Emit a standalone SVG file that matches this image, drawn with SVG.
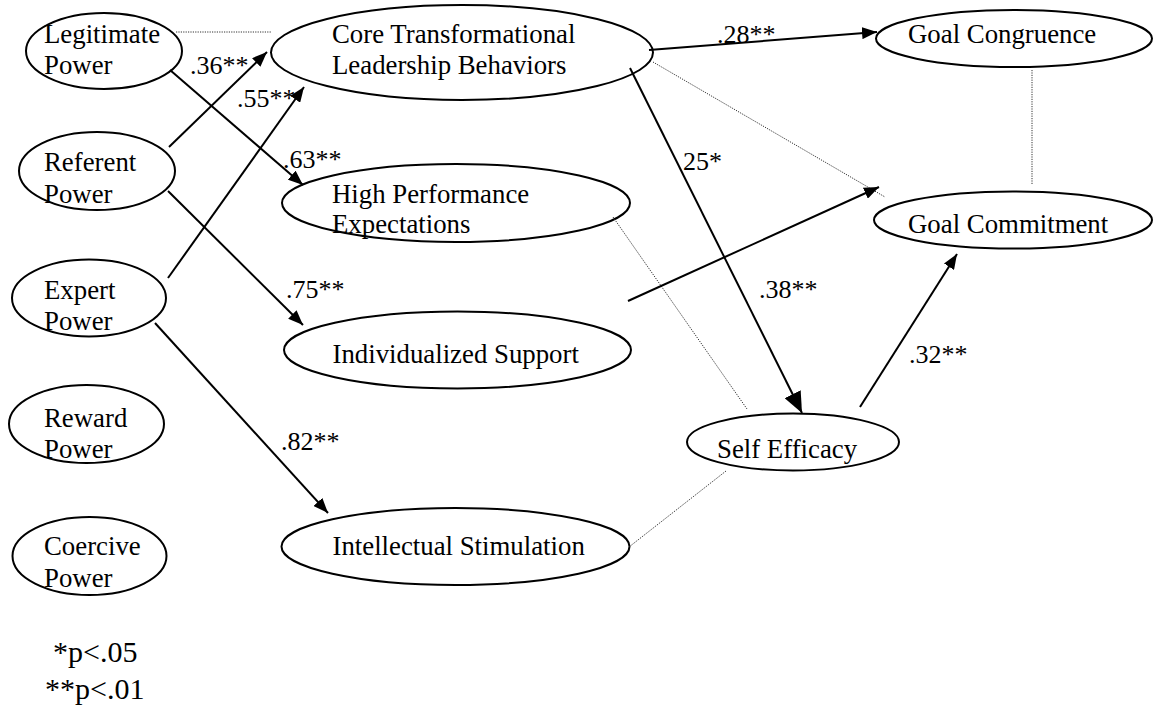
<svg xmlns="http://www.w3.org/2000/svg" width="1158" height="706" viewBox="0 0 1158 706">
  <style>
    .node ellipse { fill: none; stroke: #000; stroke-width: 2; }
    .node text { font-family: "Liberation Serif", "Times New Roman", serif; font-size: 26.8px; fill: #000; }
    .path { stroke: #000; stroke-width: 2; fill: none; }
    .corr { stroke: #333; stroke-width: 1; stroke-dasharray: 1.2 1.2; fill: none; }
    .coef { font-family: "Liberation Serif", "Times New Roman", serif; font-size: 26px; fill: #000; }
    .legend { font-family: "Liberation Serif", "Times New Roman", serif; font-size: 30px; fill: #000; }
  </style>
  <defs>
    <marker id="arrow" viewBox="0 0 15 12" refX="15" refY="6" markerWidth="15" markerHeight="12" markerUnits="userSpaceOnUse" orient="auto">
      <path d="M0,0 L15,6 L0,12 z" fill="#000"/>
    </marker>
    <marker id="arrow-lg" viewBox="0 0 21 18" refX="21" refY="9" markerWidth="21" markerHeight="18" markerUnits="userSpaceOnUse" orient="auto">
      <path d="M0,0 L21,9 L0,18 z" fill="#000"/>
    </marker>
  </defs>
  <rect width="1158" height="706" fill="#fff"/>

  <!-- Power bases -->
  <g id="legitimate-power" class="node">
    <ellipse cx="104" cy="51" rx="78" ry="38"/>
    <text x="44" y="43">Legitimate</text>
    <text x="44" y="74">Power</text>
  </g>
  <g id="referent-power" class="node">
    <ellipse cx="97" cy="171" rx="78" ry="39"/>
    <text x="44" y="171">Referent</text>
    <text x="44" y="203">Power</text>
  </g>
  <g id="expert-power" class="node">
    <ellipse cx="89" cy="298" rx="77" ry="38.5"/>
    <text x="44" y="299">Expert</text>
    <text x="44" y="330">Power</text>
  </g>
  <g id="reward-power" class="node">
    <ellipse cx="86.5" cy="424" rx="77.5" ry="39"/>
    <text x="44" y="427">Reward</text>
    <text x="44" y="458">Power</text>
  </g>
  <g id="coercive-power" class="node">
    <ellipse cx="89.5" cy="556" rx="77" ry="39"/>
    <text x="44" y="555">Coercive</text>
    <text x="44" y="587">Power</text>
  </g>

  <!-- Leadership behaviors -->
  <g id="core-tl" class="node">
    <ellipse cx="462" cy="52.5" rx="191" ry="47.5"/>
    <text x="332" y="43">Core Transformational</text>
    <text x="332" y="74">Leadership Behaviors</text>
  </g>
  <g id="high-performance" class="node">
    <ellipse cx="456" cy="203" rx="174" ry="39"/>
    <text x="332" y="203">High Performance</text>
    <text x="332" y="233">Expectations</text>
  </g>
  <g id="individualized-support" class="node">
    <ellipse cx="457.5" cy="350" rx="173.5" ry="38.5"/>
    <text x="332.5" y="363">Individualized Support</text>
  </g>
  <g id="intellectual-stimulation" class="node">
    <ellipse cx="455.5" cy="546.5" rx="174" ry="38.5"/>
    <text x="332.5" y="555">Intellectual Stimulation</text>
  </g>

  <!-- Outcomes -->
  <g id="goal-congruence" class="node">
    <ellipse cx="1014" cy="38.5" rx="138" ry="28.5"/>
    <text x="908" y="43">Goal Congruence</text>
  </g>
  <g id="goal-commitment" class="node">
    <ellipse cx="1013" cy="220" rx="139" ry="28.5"/>
    <text x="908" y="233">Goal Commitment</text>
  </g>
  <g id="self-efficacy" class="node">
    <ellipse cx="793" cy="442" rx="106" ry="28.5"/>
    <text x="717" y="458">Self Efficacy</text>
  </g>

  <!-- Paths and correlations -->
  <g id="connectors">
    <line class="corr" x1="176" y1="32" x2="272" y2="32"/>
    <line class="corr" x1="653" y1="62" x2="885" y2="197"/>
    <line class="corr" x1="1032" y1="70" x2="1032" y2="184"/>
    <line class="corr" x1="613" y1="217" x2="747" y2="409"/>
    <line class="corr" x1="726" y1="471" x2="629" y2="547"/>

    <line class="path" x1="169" y1="147" x2="267" y2="52" marker-end="url(#arrow)"/>
    <line class="path" x1="168" y1="278" x2="304" y2="87" marker-end="url(#arrow)"/>
    <line class="path" x1="170" y1="70" x2="303" y2="185" marker-end="url(#arrow)"/>
    <line class="path" x1="168" y1="191" x2="303" y2="325" marker-end="url(#arrow)"/>
    <line class="path" x1="155" y1="323" x2="328" y2="513" marker-end="url(#arrow)"/>
    <line class="path" x1="649" y1="50" x2="877" y2="32" marker-end="url(#arrow)"/>
    <line class="path" x1="630" y1="68" x2="802" y2="413" marker-end="url(#arrow-lg)"/>
    <line class="path" x1="628" y1="301" x2="879" y2="187" marker-end="url(#arrow)"/>
    <line class="path" x1="860" y1="407" x2="957" y2="254" marker-end="url(#arrow)"/>

    <text class="coef" x="190" y="74">.36**</text>
    <text class="coef" x="237" y="107">.55**</text>
    <text class="coef" x="283" y="168">.63**</text>
    <text class="coef" x="286" y="298">.75**</text>
    <text class="coef" x="281" y="450">.82**</text>
    <text class="coef" x="717" y="43">.28**</text>
    <text class="coef" x="683" y="170">25*</text>
    <text class="coef" x="759" y="298">.38**</text>
    <text class="coef" x="909" y="363">.32**</text>
  </g>

  <!-- Significance key -->
  <g id="legend">
    <text class="legend" x="53" y="662">*p&lt;.05</text>
    <text class="legend" x="45" y="699">**p&lt;.01</text>
  </g>
</svg>
